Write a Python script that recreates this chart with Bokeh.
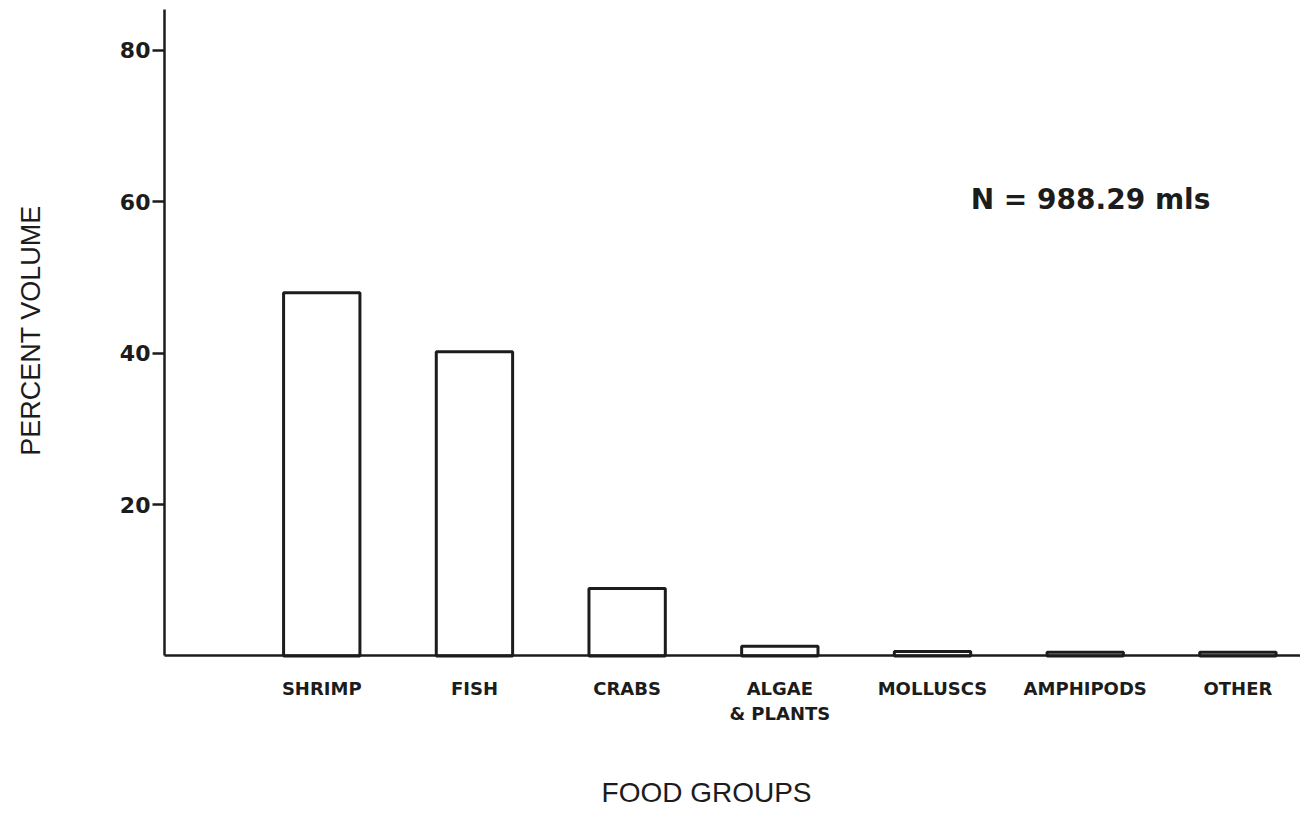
import math
from bokeh.plotting import figure
from bokeh.models import Range1d, FixedTicker, Label
from bokeh.embed import file_html
from bokeh.resources import INLINE

categories = ["SHRIMP", "FISH", "CRABS", "ALGAE\n& PLANTS", "MOLLUSCS", "AMPHIPODS", "OTHER"]
percent_volume = [48.0, 40.2, 8.9, 1.3, 0.6, 0.5, 0.5]
y_ticks = [20, 40, 60, 80]
x_label = "FOOD GROUPS"
y_label = "PERCENT VOLUME"
note = "N = 988.29 mls"

xs = list(range(len(categories)))
ink = "#1c1c1c"
y_top = 85.4
x_axis_at = -1.03

p = figure(width=1300, height=808, output_backend="svg", toolbar_location=None,
           x_range=Range1d(-2.104, 6.41), y_range=Range1d(-20.15, 86.6),
           min_border_left=0, min_border_top=0, min_border_bottom=0, min_border_right=0)
p.outline_line_color = None
p.xgrid.grid_line_color = None
p.ygrid.grid_line_color = None
p.background_fill_color = "white"
p.border_fill_color = "white"

p.vbar(x=xs, top=percent_volume, bottom=0, width=0.5, fill_color="white",
       line_color=ink, line_width=3)

# y axis, drawn inside the frame at its own x position
ya = p.yaxis[0]
ya.fixed_location = x_axis_at
ya.ticker = FixedTicker(ticks=y_ticks)
ya.bounds = (0, y_top)
ya.minor_tick_line_color = None
ya.major_tick_in = 0
ya.major_tick_out = 12
ya.major_tick_line_width = 2.5
ya.major_tick_line_color = ink
ya.axis_line_width = 2.5
ya.axis_line_color = ink
ya.major_label_text_font = "DejaVu Sans"
ya.major_label_text_font_style = "bold"
ya.major_label_text_font_size = "22px"
ya.major_label_text_color = ink
ya.major_label_standoff = 2

# x axis, drawn at y = 0 inside the frame
xa = p.xaxis[0]
xa.fixed_location = 0
xa.bounds = (x_axis_at, 6.41)
xa.ticker = FixedTicker(ticks=xs)
xa.major_label_overrides = {i: c for i, c in zip(xs, categories)}
xa.minor_tick_line_color = None
xa.major_tick_in = 0
xa.major_tick_out = 0
xa.axis_line_width = 2.5
xa.axis_line_color = ink
xa.major_label_text_font = "DejaVu Sans"
xa.major_label_text_font_style = "bold"
xa.major_label_text_font_size = "18px"
xa.major_label_text_color = ink
xa.major_label_standoff = 22

p.add_layout(Label(x=2.52, y=-18.0, text=x_label, text_font="Liberation Sans",
                   text_font_size="28px", text_color=ink, text_align="center",
                   text_baseline="middle"))
p.add_layout(Label(x=-1.907, y=43.0, text=y_label, text_font="Liberation Sans",
                   text_font_size="27px", text_color=ink, text_align="center",
                   text_baseline="middle", angle=math.pi / 2))
p.add_layout(Label(x=4.25, y=60.3, text=note, text_font="DejaVu Sans",
                   text_font_style="bold", text_font_size="28px", text_color=ink,
                   text_align="left", text_baseline="middle"))

open("out.html", "w").write(file_html(p, INLINE))
